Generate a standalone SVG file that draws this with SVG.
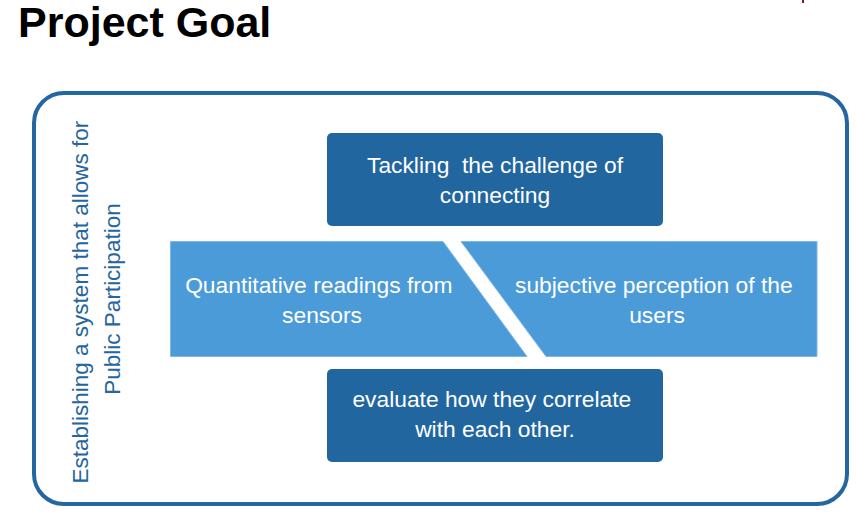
<svg xmlns="http://www.w3.org/2000/svg" width="858" height="512" viewBox="0 0 858 512">
  <style>
    .title { font-family: "Liberation Sans", Arial, sans-serif; font-weight: bold; font-size: 43px; fill: #000000; }
    .lbl { font-family: "Liberation Sans", Arial, sans-serif; font-size: 22.8px; fill: #ffffff; text-anchor: middle; }
    .side { font-family: "Liberation Sans", Arial, sans-serif; font-size: 22.5px; fill: #2565a0; text-anchor: middle; }
    .dark { fill: #21669f; }
    .light { fill: #4b9bd9; stroke: #7db8e8; stroke-width: 1; }
  </style>

  <rect width="858" height="512" fill="#ffffff"/>

  <text class="title" x="18" y="37">Project Goal</text>
  <rect x="802" y="0" width="2" height="3" fill="#7a1a3a"/>

  <!-- outer frame -->
  <g id="frame">
    <rect x="34" y="93" width="813" height="411" rx="30" ry="30" fill="none" stroke="#2467a0" stroke-width="4"/>
    <text class="side" transform="translate(88,299) rotate(-90)">
      <tspan x="0" y="0">Establishing a system that allows for</tspan>
      <tspan x="0" y="32">Public Participation</tspan>
    </text>
  </g>

  <g id="challenge">
    <rect class="dark" x="327" y="133" width="336" height="93" rx="5" ry="5"/>
    <text class="lbl" xml:space="preserve"><tspan x="495" y="173">Tackling  the challenge of</tspan><tspan x="495" y="203">connecting</tspan></text>
  </g>

  <g id="sensors">
    <polygon class="light" points="170.5,241.5 443,241.5 527,356.5 170.5,356.5"/>
    <text class="lbl">
      <tspan x="322" y="293">Quantitative readings from</tspan>
      <tspan x="322" y="323">sensors</tspan>
    </text>
  </g>

  <g id="perception">
    <polygon class="light" points="461,241.5 817,241.5 817,356.5 546,356.5"/>
    <text class="lbl">
      <tspan x="657" y="293">subjective perception of the</tspan>
      <tspan x="657" y="323">users</tspan>
    </text>
  </g>

  <g id="evaluate">
    <rect class="dark" x="327" y="369" width="336" height="93" rx="5" ry="5"/>
    <text class="lbl">
      <tspan x="495" y="407">evaluate how they correlate</tspan>
      <tspan x="495" y="437">with each other.</tspan>
    </text>
  </g>

  <g id="connectors"/>
</svg>
